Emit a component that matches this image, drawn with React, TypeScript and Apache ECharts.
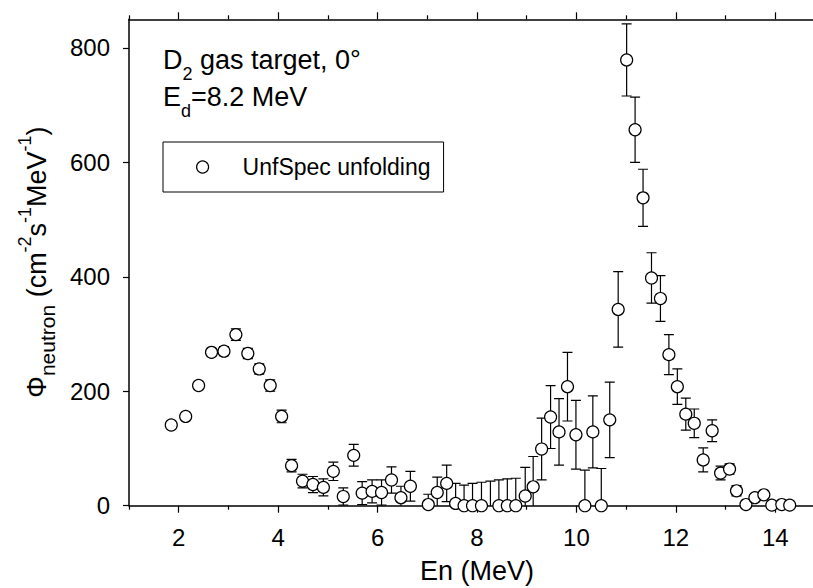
import React, { useEffect, useRef } from "react";
import * as echarts from "echarts";

const energies = [
  1.85, 2.14, 2.4, 2.66, 2.91, 3.15, 3.39, 3.62, 3.84, 4.07, 4.27, 4.49, 4.7, 4.91,
  5.11, 5.31, 5.52, 5.69, 5.89, 6.08, 6.28, 6.47, 6.66, 7.02, 7.2, 7.39, 7.57, 7.74,
  7.91, 8.09, 8.27, 8.44, 8.61, 8.78, 8.97, 9.13, 9.3, 9.48, 9.65, 9.82, 9.99, 10.17,
  10.33, 10.5, 10.67, 10.84, 11.01, 11.18, 11.34, 11.51, 11.69, 11.86, 12.03, 12.2,
  12.37, 12.55, 12.73, 12.9, 13.08, 13.22, 13.41, 13.59, 13.77, 13.93, 14.13, 14.29,
];
const flux = [
  141, 156, 210, 268, 270, 299, 266, 239, 210, 156, 70, 43, 37, 32,
  60, 16, 88, 22, 25, 23, 45, 14, 34, 2, 23, 39, 4, 0,
  0, 0, -8, 0, 0, 0, 17, 33, 99, 155, 129, 208, 124, 0,
  129, 0, 150, 343, 779, 657, 538, 398, 362, 264, 208, 160,
  144, 80, 131, 57, 64, 26, 2, 14, 19, 1, 2, 1,
];
const errors = [
  3, 4, 5, 6, 8, 10, 9, 9, 10, 11, 11, 12, 14, 15,
  16, 15, 19, 20, 20, 22, 23, 20, 26, 18, 27, 32, 35, 36,
  39, 41, 51, 45, 47, 48, 50, 53, 54, 55, 58, 60, 60, 62,
  63, 65, 66, 66, 63, 57, 50, 44, 40, 35, 31, 28,
  25, 21, 19, 12, 9, 9, 6, 5, 4, 3, 3, 2,
];
const xMajorTicks = [2, 4, 6, 8, 10, 12, 14];
const xMinorTicks = [1, 3, 5, 7, 9, 11, 13, 15];
const yTicks = [0, 200, 400, 600, 800];
const seriesName = "UnfSpec unfolding";

const FONT = "'Liberation Sans', Arial, sans-serif";

export default function App() {
  const ref = useRef<HTMLDivElement>(null);
  useEffect(() => {
    if (!ref.current) return;
    const chart = echarts.init(ref.current, null, { renderer: "svg" });
    const axisLine = { show: true, lineStyle: { color: "#000", width: 1.5 } };
    const tickStyle = { color: "#000", width: 1.2 };
    const baseX = { type: "value", min: 1, max: 15, splitLine: { show: false } };
    const option: any = {
      animation: false,
      backgroundColor: "#fff",
      textStyle: { fontFamily: FONT, color: "#000" },
      grid: {
        left: 129,
        top: 19.3,
        width: 696,
        height: 486.4,
        containLabel: false,
        outerBoundsMode: "none",
      },
      legend: {
        data: [seriesName],
        left: 163,
        top: 142,
        orient: "horizontal",
        borderColor: "#000",
        borderWidth: 1,
        padding: [13.5, 13, 13.5, 33],
        itemWidth: 12,
        itemHeight: 12,
        selectedMode: false,
        icon: "circle",
        itemStyle: { color: "#fff", borderColor: "#000", borderWidth: 1.2 },
        textStyle: { fontFamily: FONT, fontSize: 23, color: "#000", padding: [0, 0, 0, 29] },
      },
      xAxis: [
        {
          ...baseX,
          position: "bottom",
          axisLine,
          axisTick: { show: true, customValues: xMajorTicks, length: 7, lineStyle: tickStyle },
          axisLabel: { show: true, customValues: xMajorTicks, margin: 20, fontSize: 24, color: "#000", fontFamily: FONT },
          name: "En (MeV)",
          nameLocation: "middle",
          nameGap: 52,
          nameTextStyle: { fontSize: 27, color: "#000", fontFamily: FONT },
        },
        {
          ...baseX,
          position: "bottom",
          axisLine: { show: false },
          axisTick: { show: true, customValues: xMinorTicks, length: 4, lineStyle: tickStyle },
          axisLabel: { show: false },
        },
        {
          ...baseX,
          position: "top",
          axisLine,
          axisTick: { show: true, customValues: xMajorTicks, length: 7, lineStyle: tickStyle },
          axisLabel: { show: false },
        },
        {
          ...baseX,
          position: "top",
          axisLine: { show: false },
          axisTick: { show: true, customValues: xMinorTicks, length: 4, lineStyle: tickStyle },
          axisLabel: { show: false },
        },
      ],
      yAxis: [
        {
          type: "value",
          min: 0,
          max: 850,
          interval: 200,
          splitLine: { show: false },
          axisLine,
          axisTick: { show: true, customValues: yTicks, length: 6, lineStyle: tickStyle },
          axisLabel: { show: true, customValues: yTicks, margin: 19, fontSize: 24, color: "#000", fontFamily: FONT },
        },
      ],
      graphic: [
        {
          type: "text",
          x: 163,
          y: 60,
          style: {
            text: "{m|D}{s|2}{m| gas target, 0°}",
            verticalAlign: "middle",
            align: "left",
            fill: "#000",
            rich: {
              m: { fontSize: 27, fontFamily: FONT, lineHeight: 46, fill: "#000" },
              s: { fontSize: 18, fontFamily: FONT, lineHeight: 18, verticalAlign: "bottom", fill: "#000" },
            },
          },
        },
        {
          type: "text",
          x: 163,
          y: 97,
          style: {
            text: "{m|E}{s|d}{m|=8.2 MeV}",
            verticalAlign: "middle",
            align: "left",
            fill: "#000",
            rich: {
              m: { fontSize: 27, fontFamily: FONT, lineHeight: 46, fill: "#000" },
              s: { fontSize: 18, fontFamily: FONT, lineHeight: 18, verticalAlign: "bottom", fill: "#000" },
            },
          },
        },
        {
          type: "text",
          x: 37,
          y: 262,
          rotation: Math.PI / 2,
          style: {
            text: "{m|Φ}{sb|neutron}{m| (cm}{sp|-2}{m|s}{sp|-1}{m|MeV}{sp|-1}{m|)}",
            verticalAlign: "middle",
            align: "center",
            fill: "#000",
            rich: {
              m: { fontSize: 27, fontFamily: FONT, lineHeight: 42, fill: "#000" },
              sb: { fontSize: 21, fontFamily: FONT, lineHeight: 30, verticalAlign: "bottom", fill: "#000" },
              sp: { fontSize: 18, fontFamily: FONT, lineHeight: 18, verticalAlign: "top", fill: "#000" },
            },
          },
        },
      ],
      series: [
        {
          name: "error bars",
          type: "custom",
          xAxisIndex: 0,
          yAxisIndex: 0,
          clip: true,
          z: 1,
          encode: { x: 0, y: [1, 2] },
          data: energies.map((e, i) => [e, flux[i] - errors[i], flux[i] + errors[i]]),
          renderItem: (params: any, api: any) => {
            const x = api.value(0);
            const lo = api.coord([x, api.value(1)]);
            const hi = api.coord([x, api.value(2)]);
            const hw = 5;
            const st = { stroke: "#000", lineWidth: 1.2 };
            return {
              type: "group",
              children: [
                { type: "line", shape: { x1: lo[0], y1: lo[1], x2: hi[0], y2: hi[1] }, style: st },
                { type: "line", shape: { x1: hi[0] - hw, y1: hi[1], x2: hi[0] + hw, y2: hi[1] }, style: st },
                { type: "line", shape: { x1: lo[0] - hw, y1: lo[1], x2: lo[0] + hw, y2: lo[1] }, style: st },
              ],
            };
          },
        },
        {
          name: seriesName,
          type: "scatter",
          xAxisIndex: 0,
          yAxisIndex: 0,
          z: 3,
          clip: false,
          symbol: "circle",
          symbolSize: 12,
          itemStyle: { color: "#fff", borderColor: "#000", borderWidth: 1.2, opacity: 1 },
          data: energies.map((e, i) => (flux[i] >= 0 ? [e, flux[i]] : [e, "-"])),
        },
      ],
    };
    chart.setOption(option);
    return () => chart.dispose();
  }, []);
  return (
    <div
      ref={ref}
      style={{ position: "fixed", left: 0, top: 0, width: 813, height: 588, background: "#fff" }}
    />
  );
}
